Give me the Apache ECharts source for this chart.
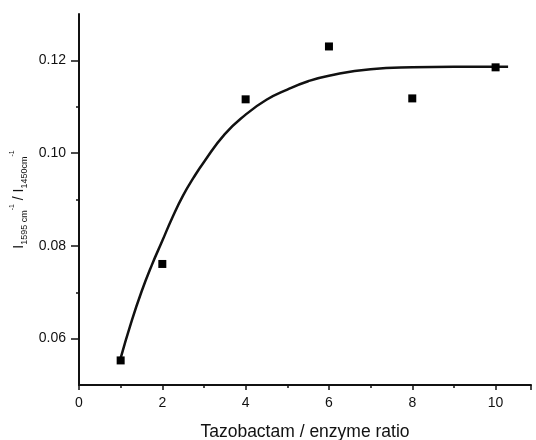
<!DOCTYPE html>
<html>
<head>
<meta charset="utf-8">
<script src="https://cdn.jsdelivr.net/npm/echarts@6/dist/echarts.min.js"></script>
<style>html,body{margin:0;padding:0;background:#fff}#c{width:536px;height:440px}</style>
</head>
<body>
<div id="c"></div>
<script>
// Measured points
var ratioX = [1, 2, 4, 6, 8, 10];
var intensityY = [0.0553, 0.0761, 0.1116, 0.1230, 0.1118, 0.1185];
// Fitted curve
var fitX = [1, 1.25, 1.5, 1.75, 2, 2.25, 2.5, 2.75, 3, 3.5, 4, 4.5, 5, 5.5, 6, 7, 8, 9, 10.3];
var fitY = [0.0558, 0.0634, 0.0701, 0.0759, 0.0811, 0.0863, 0.0909, 0.0947, 0.0981, 0.1041, 0.1083, 0.1115, 0.1137, 0.1155, 0.1167, 0.1181, 0.1185, 0.1186, 0.1186];
// Tick labels
var yMajorTicks = [0.06, 0.08, 0.10, 0.12];
var yMinorTicks = [0.07, 0.09, 0.11];

var font = 'Liberation Sans, Arial, sans-serif';
var ink = '#111';

function pairs(xs, ys) { return xs.map(function (x, i) { return [x, ys[i]]; }); }

var chart = echarts.init(document.getElementById('c'));
chart.setOption({
  animation: false,
  backgroundColor: '#fff',
  grid: { left: 79, top: 14, right: 5, bottom: 55, outerBoundsMode: 'none', containLabel: false },
  xAxis: {
    type: 'value', min: 0, max: 10.85, interval: 2,
    name: 'Tazobactam / enzyme ratio', nameLocation: 'middle', nameGap: 38,
    nameTextStyle: { fontFamily: font, fontSize: 17.5, color: ink },
    axisLine: { show: true, lineStyle: { color: ink, width: 2 } },
    axisTick: { show: true, length: 5, lineStyle: { color: ink, width: 1.5 } },
    minorTick: { show: true, splitNumber: 2, length: 3, lineStyle: { color: ink, width: 1.5 } },
    axisLabel: { fontFamily: font, fontSize: 14, color: ink, margin: 11, showMaxLabel: false },
    splitLine: { show: false }
  },
  yAxis: [{
    type: 'value', min: 0.05, max: 0.13,
    name: '{m|I}{s|1595 cm}{p|-1}{m| / I}{s|1450cm}{p|-1}',
    nameLocation: 'middle', nameGap: 50, nameRotate: 90,
    nameTextStyle: {
      fontFamily: font, color: ink,
      rich: {
        m: { fontFamily: font, fontSize: 14, color: ink, lineHeight: 20, verticalAlign: 'middle' },
        s: { fontFamily: font, fontSize: 9, color: ink, lineHeight: 20, verticalAlign: 'bottom' },
        p: { fontFamily: font, fontSize: 7, color: ink, lineHeight: 20, verticalAlign: 'top' }
      }
    },
    axisLine: { show: true, lineStyle: { color: ink, width: 2 } },
    axisTick: { show: true, length: 3, customValues: yMinorTicks, lineStyle: { color: ink, width: 1.5 } },
    axisLabel: { show: false },
    splitLine: { show: false }
  }, {
    type: 'value', min: 0.05, max: 0.13, position: 'left',
    axisLine: { show: false },
    axisTick: { show: true, length: 8, customValues: yMajorTicks, lineStyle: { color: ink, width: 1.5 } },
    axisLabel: {
      show: true, customValues: yMajorTicks, fontFamily: font, fontSize: 14, color: ink, margin: 13,
      formatter: function (v) { return v.toFixed(2); }
    },
    splitLine: { show: false }
  }],
  series: [{
    type: 'line', data: pairs(fitX, fitY), smooth: true, showSymbol: false,
    lineStyle: { color: ink, width: 2.5 }, z: 2
  }, {
    type: 'scatter', data: pairs(ratioX, intensityY), symbol: 'rect', symbolSize: 8,
    itemStyle: { color: '#000', opacity: 1 }, z: 3
  }]
});
</script>
</body>
</html>
